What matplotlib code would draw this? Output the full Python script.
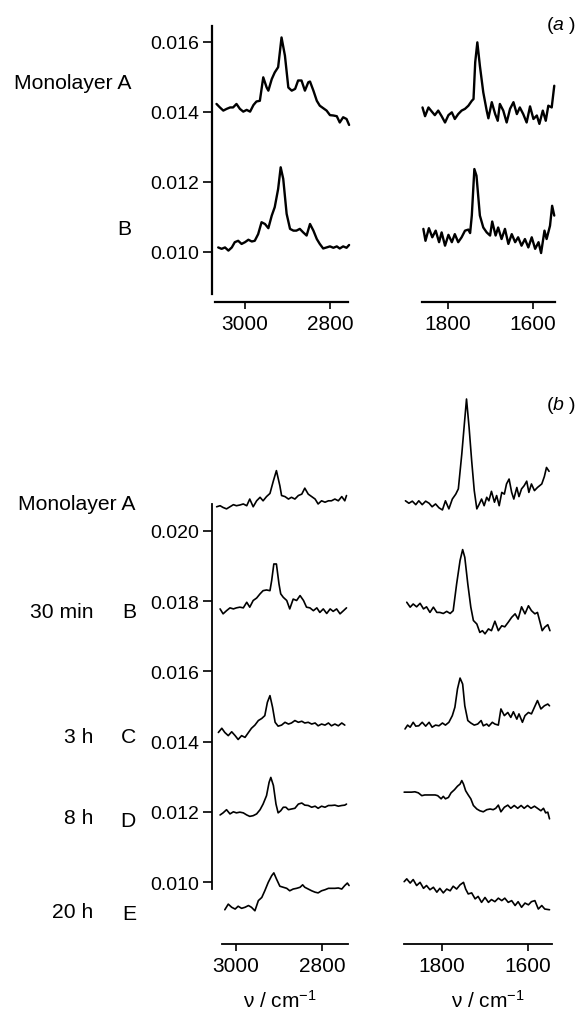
import matplotlib
matplotlib.use("Agg")
import matplotlib.pyplot as plt

plt.rcParams['font.family'] = ['Liberation Sans', 'DejaVu Sans']
plt.rcParams['mathtext.fontset'] = 'custom'
plt.rcParams['mathtext.rm'] = 'Liberation Sans'
plt.rcParams['mathtext.it'] = 'Liberation Sans:italic'

# absorbance values are given in units of 1e-3
# ---- panel (a), C-H region ----
a_ch_wn_A = [3067, 3059, 3051, 3043, 3035, 3028, 3020, 3012, 3004, 2996, 2988, 2980, 2973, 2965, 2957,
             2949, 2945, 2937, 2930, 2922, 2914, 2906, 2898, 2890, 2882, 2875, 2867, 2859, 2851, 2847,
             2839, 2831, 2824, 2816, 2808, 2800, 2792, 2784, 2777, 2769, 2761, 2755]
a_ch_A = [14.23, 14.13, 14.04, 14.09, 14.13, 14.13, 14.23, 14.09, 14.01, 14.06, 14.01, 14.20, 14.30, 14.32, 14.99,
          14.70, 14.61, 14.94, 15.13, 15.28, 16.13, 15.61, 14.70, 14.61, 14.66, 14.90, 14.90, 14.61, 14.85, 14.87,
          14.61, 14.32, 14.18, 14.11, 14.04, 13.91, 13.90, 13.88, 13.70, 13.85, 13.80, 13.63]
a_ch_wn_B = [3063, 3055, 3047, 3039, 3031, 3024, 3016, 3008, 3000, 2992, 2984, 2977, 2969, 2961, 2953,
             2945, 2937, 2930, 2922, 2916, 2910, 2902, 2894, 2886, 2879, 2871, 2863, 2855, 2847, 2839,
             2831, 2824, 2816, 2808, 2800, 2792, 2784, 2777, 2769, 2761, 2755]
a_ch_B = [10.13, 10.09, 10.13, 10.04, 10.13, 10.28, 10.32, 10.23, 10.28, 10.35, 10.30, 10.32, 10.51, 10.85, 10.80,
          10.68, 11.04, 11.28, 11.80, 12.42, 12.09, 11.09, 10.66, 10.61, 10.61, 10.66, 10.56, 10.47, 10.80, 10.61,
          10.37, 10.23, 10.10, 10.13, 10.16, 10.12, 10.16, 10.10, 10.16, 10.12, 10.20]

# ---- panel (a), C=O region ----
a_co_wn_A = [1860, 1854, 1846, 1838, 1831, 1823, 1815, 1807, 1799, 1791, 1784, 1776, 1768, 1760, 1752,
             1744, 1740, 1736, 1731, 1725, 1717, 1709, 1705, 1697, 1689, 1683, 1678, 1670, 1662, 1654,
             1646, 1638, 1631, 1623, 1615, 1607, 1599, 1591, 1585, 1577, 1570, 1564, 1556, 1550]
a_co_A = [14.13, 13.88, 14.13, 14.01, 13.91, 14.04, 13.88, 13.70, 13.91, 13.99, 13.80, 13.94, 14.04, 14.09, 14.18,
          14.32, 14.37, 15.42, 15.99, 15.32, 14.56, 14.04, 13.82, 14.28, 13.94, 13.75, 14.23, 14.04, 13.70, 14.09,
          14.28, 13.94, 14.13, 13.94, 13.70, 14.16, 13.80, 13.90, 13.66, 14.04, 13.75, 14.18, 14.13, 14.75]
a_co_wn_B = [1858, 1853, 1845, 1837, 1829, 1821, 1815, 1807, 1799, 1791, 1784, 1776, 1768, 1760, 1752,
             1748, 1744, 1738, 1733, 1725, 1717, 1709, 1701, 1696, 1688, 1682, 1674, 1666, 1658, 1650,
             1642, 1635, 1627, 1619, 1611, 1603, 1595, 1587, 1581, 1573, 1568, 1560, 1555, 1550]
a_co_B = [10.66, 10.32, 10.68, 10.42, 10.61, 10.28, 10.56, 10.18, 10.49, 10.28, 10.51, 10.28, 10.42, 10.61, 10.64,
          10.54, 11.04, 12.37, 12.18, 11.04, 10.70, 10.56, 10.47, 10.87, 10.47, 10.70, 10.37, 10.66, 10.23, 10.51,
          10.28, 10.42, 10.18, 10.37, 10.13, 10.42, 10.09, 10.28, 9.97, 10.61, 10.37, 10.75, 11.32, 11.04]

# ---- panel (b), C-H region ----
b_ch_wn_A = [3045, 3037, 3030, 3022, 3014, 3006, 2999, 2991, 2983, 2975, 2968, 2960, 2952, 2944, 2937,
             2929, 2921, 2913, 2906, 2898, 2894, 2886, 2878, 2871, 2863, 2855, 2847, 2840, 2832, 2824,
             2816, 2809, 2801, 2793, 2785, 2778, 2770, 2762, 2754, 2747, 2743]
b_ch_A = [20.69, 20.72, 20.67, 20.63, 20.69, 20.75, 20.72, 20.74, 20.77, 20.72, 20.91, 20.69, 20.86, 20.96, 20.86,
          20.98, 21.07, 21.43, 21.72, 21.29, 21.01, 20.98, 20.91, 20.96, 20.91, 21.01, 21.05, 21.22, 21.05, 20.98,
          20.91, 20.77, 20.86, 20.82, 20.86, 20.86, 20.91, 20.86, 20.98, 20.86, 21.01]
b_ch_wn_B = [3037, 3030, 3022, 3014, 3006, 2999, 2991, 2983, 2975, 2968, 2960, 2952, 2944, 2937, 2929,
             2921, 2917, 2912, 2906, 2900, 2896, 2890, 2882, 2875, 2867, 2859, 2851, 2843, 2836, 2828,
             2820, 2812, 2805, 2797, 2789, 2781, 2774, 2766, 2758, 2750, 2743]
b_ch_B = [17.78, 17.64, 17.73, 17.81, 17.78, 17.81, 17.83, 17.81, 17.97, 17.83, 18.02, 18.09, 18.21, 18.30, 18.32,
          18.30, 18.59, 19.06, 19.06, 18.49, 18.21, 18.11, 18.02, 17.78, 18.06, 18.02, 18.16, 18.02, 17.83, 17.81,
          17.73, 17.81, 17.68, 17.78, 17.65, 17.78, 17.71, 17.78, 17.64, 17.73, 17.81]
b_ch_wn_C = [3041, 3033, 3026, 3018, 3010, 3002, 2995, 2987, 2979, 2971, 2964, 2956, 2948, 2940, 2933,
             2927, 2921, 2915, 2909, 2902, 2894, 2886, 2878, 2871, 2863, 2855, 2847, 2840, 2832, 2824,
             2816, 2809, 2801, 2793, 2785, 2778, 2770, 2762, 2754, 2747]
b_ch_C = [14.26, 14.38, 14.26, 14.17, 14.28, 14.17, 14.06, 14.17, 14.12, 14.26, 14.38, 14.47, 14.60, 14.66, 14.74,
          15.12, 15.31, 14.98, 14.55, 14.44, 14.47, 14.55, 14.50, 14.53, 14.60, 14.55, 14.58, 14.53, 14.55, 14.50,
          14.53, 14.45, 14.50, 14.47, 14.53, 14.45, 14.50, 14.45, 14.53, 14.47]
b_ch_wn_D = [3037, 3030, 3022, 3014, 3006, 2999, 2991, 2983, 2975, 2968, 2960, 2952, 2944, 2937, 2929,
             2923, 2919, 2913, 2907, 2902, 2896, 2890, 2884, 2878, 2871, 2863, 2855, 2847, 2840, 2832,
             2824, 2816, 2809, 2801, 2793, 2785, 2778, 2770, 2762, 2754, 2747, 2743]
b_ch_D = [11.91, 11.97, 12.06, 11.94, 12.00, 11.97, 11.99, 11.97, 11.91, 11.87, 11.89, 11.94, 12.06, 12.22, 12.46,
          12.84, 12.98, 12.75, 12.22, 11.97, 12.03, 12.13, 12.13, 12.06, 12.08, 12.10, 12.22, 12.25, 12.19, 12.18,
          12.13, 12.16, 12.10, 12.16, 12.13, 12.18, 12.18, 12.19, 12.16, 12.18, 12.19, 12.22]
b_ch_wn_E = [3026, 3018, 3010, 3002, 2995, 2987, 2979, 2971, 2964, 2956, 2948, 2940, 2933, 2925, 2917,
             2912, 2906, 2898, 2890, 2882, 2875, 2867, 2859, 2851, 2845, 2840, 2832, 2824, 2816, 2809,
             2801, 2793, 2785, 2778, 2770, 2762, 2754, 2747, 2741, 2737]
b_ch_E = [9.21, 9.37, 9.28, 9.23, 9.31, 9.25, 9.28, 9.33, 9.28, 9.18, 9.47, 9.56, 9.75, 9.99, 10.18,
          10.26, 10.09, 9.88, 9.85, 9.82, 9.75, 9.80, 9.82, 9.85, 9.92, 9.85, 9.80, 9.75, 9.71, 9.69,
          9.75, 9.78, 9.82, 9.82, 9.82, 9.83, 9.80, 9.90, 9.97, 9.90]

# ---- panel (b), C=O region ----
b_co_wn_A = [1885, 1877, 1869, 1861, 1854, 1846, 1838, 1830, 1823, 1815, 1807, 1799, 1792, 1784, 1776,
             1768, 1762, 1754, 1748, 1743, 1737, 1731, 1725, 1719, 1714, 1708, 1702, 1696, 1691, 1685,
             1678, 1673, 1667, 1661, 1655, 1650, 1644, 1638, 1633, 1626, 1621, 1615, 1609, 1603, 1598,
             1592, 1585, 1578, 1568, 1562, 1557, 1551]
b_co_A = [20.86, 20.79, 20.85, 20.75, 20.86, 20.75, 20.85, 20.79, 20.69, 20.77, 20.66, 20.60, 20.86, 20.63, 20.91,
          21.05, 21.20, 22.19, 23.05, 23.76, 22.95, 22.00, 21.15, 20.63, 20.75, 20.91, 20.72, 20.96, 20.86, 21.13,
          20.82, 21.01, 20.72, 21.10, 21.05, 21.34, 21.48, 21.10, 20.91, 21.24, 20.98, 21.20, 21.29, 21.42, 21.10,
          21.34, 21.15, 21.24, 21.34, 21.55, 21.81, 21.70]
b_co_wn_B = [1882, 1874, 1867, 1859, 1851, 1843, 1836, 1828, 1820, 1812, 1805, 1797, 1789, 1781, 1774,
             1766, 1758, 1752, 1747, 1740, 1733, 1727, 1719, 1712, 1706, 1700, 1692, 1685, 1677, 1669,
             1661, 1654, 1646, 1638, 1630, 1623, 1615, 1607, 1599, 1592, 1584, 1578, 1572, 1567, 1561,
             1554, 1549]
b_co_B = [17.97, 17.83, 17.92, 17.84, 17.94, 17.78, 17.84, 17.68, 17.83, 17.68, 17.68, 17.65, 17.71, 17.65, 17.73,
          18.49, 19.16, 19.47, 19.25, 18.49, 17.83, 17.45, 17.35, 17.11, 17.16, 17.07, 17.21, 17.16, 17.43, 17.16,
          17.30, 17.27, 17.40, 17.54, 17.64, 17.49, 17.84, 17.64, 17.87, 17.73, 17.64, 17.68, 17.40, 17.16, 17.26,
          17.33, 17.16]
b_co_wn_C = [1886, 1880, 1874, 1867, 1861, 1854, 1846, 1838, 1830, 1823, 1815, 1807, 1799, 1792, 1784,
             1776, 1770, 1764, 1758, 1752, 1747, 1740, 1733, 1725, 1717, 1709, 1704, 1696, 1691, 1683,
             1677, 1669, 1663, 1655, 1647, 1640, 1634, 1626, 1621, 1613, 1607, 1599, 1592, 1585, 1578,
             1570, 1562, 1554, 1550]
b_co_C = [14.36, 14.47, 14.41, 14.55, 14.44, 14.45, 14.55, 14.44, 14.55, 14.41, 14.47, 14.45, 14.53, 14.47, 14.55,
          14.74, 14.98, 15.50, 15.81, 15.64, 15.02, 14.60, 14.53, 14.47, 14.50, 14.60, 14.45, 14.50, 14.44, 14.55,
          14.50, 14.47, 14.93, 14.74, 14.83, 14.69, 14.85, 14.64, 14.79, 14.55, 14.74, 14.83, 14.79, 14.98, 15.17,
          14.93, 15.02, 15.07, 15.02]
b_co_wn_D = [1888, 1878, 1871, 1863, 1855, 1847, 1840, 1832, 1824, 1816, 1810, 1802, 1797, 1792, 1785,
             1779, 1771, 1764, 1758, 1754, 1750, 1745, 1739, 1733, 1727, 1719, 1712, 1704, 1696, 1688,
             1681, 1675, 1669, 1663, 1655, 1647, 1640, 1632, 1624, 1616, 1609, 1601, 1593, 1585, 1578,
             1570, 1564, 1559, 1554, 1550]
b_co_D = [12.56, 12.56, 12.56, 12.57, 12.54, 12.46, 12.48, 12.48, 12.48, 12.48, 12.46, 12.37, 12.44, 12.37, 12.41,
          12.54, 12.63, 12.73, 12.79, 12.89, 12.79, 12.60, 12.48, 12.37, 12.18, 12.08, 12.03, 12.00, 12.06, 12.08,
          12.06, 12.10, 12.19, 12.00, 12.13, 12.19, 12.10, 12.18, 12.10, 12.18, 12.10, 12.18, 12.10, 12.16, 12.10,
          12.03, 12.10, 11.97, 11.99, 11.80]
b_co_wn_E = [1888, 1882, 1874, 1867, 1859, 1851, 1843, 1836, 1828, 1820, 1812, 1805, 1797, 1789, 1781,
             1774, 1766, 1758, 1750, 1745, 1739, 1731, 1723, 1716, 1708, 1700, 1692, 1685, 1677, 1669,
             1661, 1654, 1646, 1638, 1630, 1623, 1615, 1607, 1599, 1592, 1584, 1576, 1568, 1561, 1550]
b_co_E = [10.01, 10.09, 9.97, 10.07, 9.90, 9.99, 9.82, 9.90, 9.78, 9.85, 9.71, 9.82, 9.69, 9.80, 9.75,
          9.88, 9.80, 9.92, 9.99, 9.80, 9.66, 9.69, 9.52, 9.59, 9.42, 9.56, 9.42, 9.50, 9.44, 9.54,
          9.47, 9.54, 9.42, 9.47, 9.33, 9.44, 9.28, 9.40, 9.35, 9.44, 9.47, 9.23, 9.33, 9.23, 9.21]

a_yticks = [0.010, 0.012, 0.014, 0.016]
b_yticks = [0.010, 0.012, 0.014, 0.016, 0.018, 0.020]
ch_xticks = [3000, 2800]
co_xticks = [1800, 1600]
a_labels = ['Monolayer A', 'B']
b_labels = ['Monolayer A', 'B', 'C', 'D', 'E']
b_times = ['30 min', '3 h', '8 h', '20 h']

W, H = 578, 1012
fig = plt.figure(figsize=(W / 100, H / 100), dpi=100)


def px_axes(l, t, r, b):
    return fig.add_axes([l / W, 1 - b / H, (r - l) / W, (b - t) / H])


def style(ax, xlim, ylim, xb, xticks, yb=None, yticks=None, lw=1.4):
    ax.set_xlim(*xlim)
    ax.set_ylim(*ylim)
    ax.patch.set_alpha(0)
    for s in ['top', 'right']:
        ax.spines[s].set_visible(False)
    ax.spines['bottom'].set_bounds(*xb)
    ax.spines['bottom'].set_linewidth(lw)
    ax.set_xticks(xticks)
    ax.set_xticklabels([str(t) for t in xticks])
    ax.tick_params(axis='x', direction='out', length=5, width=1.2, pad=4, labelsize=15)
    if yb is None:
        ax.spines['left'].set_visible(False)
        ax.set_yticks([])
    else:
        ax.spines['left'].set_bounds(*yb)
        ax.spines['left'].set_linewidth(lw)
        ax.set_yticks(yticks)
        ax.set_yticklabels(['%.3f' % t for t in yticks])
        ax.tick_params(axis='y', direction='out', length=6.5, width=1.2, pad=2.5, labelsize=14)


def spec(ax, x, y, lw):
    ax.plot(x, [v * 1e-3 for v in y], color='black', lw=lw, solid_joinstyle='round',
            solid_capstyle='round', clip_on=False)


# panel (a)
ax1 = px_axes(212, 20, 350, 303)
style(ax1, (3077.6, 2752.9), (0.008571, 0.016657), (3070, 2758), ch_xticks,
      (0.0088, 0.01646), a_yticks, lw=1.6)
spec(ax1, a_ch_wn_A, a_ch_A, 1.7)
spec(ax1, a_ch_wn_B, a_ch_B, 1.7)

ax2 = px_axes(418, 20, 560, 303)
style(ax2, (1870.6, 1536.5), (0.008571, 0.016657), (1861, 1548), co_xticks, lw=1.6)
spec(ax2, a_co_wn_A, a_co_A, 1.7)
spec(ax2, a_co_wn_B, a_co_B, 1.7)

# panel (b)
ax3 = px_axes(212, 380, 352, 945)
style(ax3, (3055.8, 2730.2), (0.008234, 0.02433), (3033, 2740), ch_xticks,
      (0.0098, 0.02077), b_yticks, lw=1.3)
for x, y in [(b_ch_wn_A, b_ch_A), (b_ch_wn_B, b_ch_B), (b_ch_wn_C, b_ch_C),
             (b_ch_wn_D, b_ch_D), (b_ch_wn_E, b_ch_E)]:
    spec(ax3, x, y, 1.2)

ax4 = px_axes(395, 380, 560, 945)
style(ax4, (1909.3, 1525.6), (0.008234, 0.02433), (1888, 1544), co_xticks, lw=1.3)
for x, y in [(b_co_wn_A, b_co_A), (b_co_wn_B, b_co_B), (b_co_wn_C, b_co_C),
             (b_co_wn_D, b_co_D), (b_co_wn_E, b_co_E)]:
    spec(ax4, x, y, 1.2)


def ftext(x, y, s, ha='right', size=15.2):
    fig.text(x / W, 1 - y / H, s, ha=ha, va='baseline', fontsize=size)


# row labels
for lab, yb in zip(a_labels, [89, 235]):
    ftext(131, yb, lab)
for lab, yb in zip(b_labels, [510, 618, 743, 827, 920]):
    ftext(136, yb, lab)
for lab, yb in zip(b_times, [618, 743, 824, 918]):
    ftext(93, yb, lab)

ftext(576, 30, r'($\mathit{a}$ )', size=14)
ftext(576, 410, r'($\mathit{b}$ )', size=14)

ftext(280, 1008, r'ν / cm$^{-1}$', ha='center', size=15)
ftext(488, 1008, r'ν / cm$^{-1}$', ha='center', size=15)

fig.savefig('out.png', dpi=100)
